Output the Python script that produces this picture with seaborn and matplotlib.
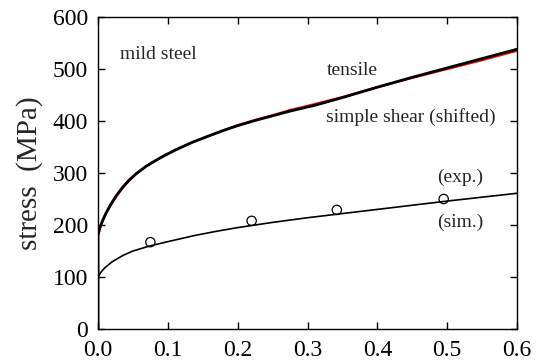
import matplotlib
matplotlib.use("Agg")
import matplotlib.pyplot as plt
import seaborn as sns
import pandas as pd

# ---- data ----
shear_strain = [0.0, 0.0, 0.003, 0.007, 0.0115, 0.018, 0.026, 0.035, 0.045, 0.055,
                0.069, 0.08, 0.093, 0.112, 0.135, 0.16, 0.18, 0.2, 0.225, 0.25,
                0.275, 0.3, 0.31, 0.35, 0.4, 0.45, 0.5, 0.55, 0.6]
shear_stress = [0, 181, 196, 210, 223, 239, 256, 272, 287, 299,
                313, 322, 332, 345, 359, 372, 382, 391, 401, 410,
                419, 427, 430, 445, 465, 484, 502, 520, 538]

tensile_strain = [0.0, 0.0, 0.003, 0.007, 0.0115, 0.018, 0.026, 0.035, 0.045, 0.055,
                  0.069, 0.08, 0.093, 0.112, 0.135, 0.16, 0.18, 0.2, 0.225, 0.25,
                  0.275, 0.3, 0.35, 0.4, 0.45, 0.5, 0.55, 0.6]
tensile_stress = [0, 179, 195, 209, 222, 238, 255, 271, 286, 299,
                  313, 322, 332, 345, 359, 372, 382, 392, 402, 411,
                  421, 429, 446, 465, 483, 500, 517, 535]

sim_strain = [0.0, 0.0, 0.004, 0.01, 0.02, 0.035, 0.05, 0.075, 0.1, 0.139,
              0.17, 0.2, 0.25, 0.3, 0.35, 0.4, 0.45, 0.5, 0.55, 0.6]
sim_stress = [0, 100, 109, 118, 129, 141, 150, 160, 168, 180,
              188, 195, 205, 214, 222, 230, 238, 246, 253.5, 261]

exp_strain = [0.075, 0.22, 0.342, 0.495]
exp_stress = [167, 208, 229, 250]

x_ticks = [0.0, 0.1, 0.2, 0.3, 0.4, 0.5, 0.6]
y_ticks = [0, 100, 200, 300, 400, 500, 600]

sns.set_theme(style="ticks")
plt.rcParams["font.family"] = ["Liberation Serif", "DejaVu Serif"]

fig = plt.figure(figsize=(5.39, 3.63), dpi=100)
ax = fig.add_axes([98/539, 1-329/363, (517-98)/539, (329-17)/363])

df_t = pd.DataFrame({"strain": tensile_strain, "stress": tensile_stress})
df_s = pd.DataFrame({"strain": shear_strain, "stress": shear_stress})
df_sim = pd.DataFrame({"strain": sim_strain, "stress": sim_stress})
df_exp = pd.DataFrame({"strain": exp_strain, "stress": exp_stress})

sns.lineplot(data=df_t, x="strain", y="stress", sort=False, estimator=None,
             color="red", linewidth=1.6, ax=ax)
sns.lineplot(data=df_s, x="strain", y="stress", sort=False, estimator=None,
             color="black", linewidth=2.0, ax=ax)
sns.lineplot(data=df_sim, x="strain", y="stress", sort=False, estimator=None,
             color="black", linewidth=1.2, ax=ax)
sns.scatterplot(data=df_exp, x="strain", y="stress", marker="o", s=45,
                facecolor="none", edgecolor="black", linewidth=0.9, ax=ax, zorder=5)

ax.set_xlim(0, 0.6)
ax.set_ylim(0, 600)
ax.set_xticks(x_ticks)
ax.set_xticklabels([f"{v:.1f}" for v in x_ticks])
ax.set_yticks(y_ticks)
ax.set_yticklabels([str(v) for v in y_ticks])
ax.set_xlabel("")
ax.set_ylabel("stress  (MPa)", fontsize=21, labelpad=7)

ax.tick_params(direction="in", top=True, right=True, length=5, width=1,
               labelsize=17, colors="black")
ax.tick_params(axis="y", pad=7)
ax.tick_params(axis="x", pad=8)
for sp in ax.spines.values():
    sp.set_visible(True)
    sp.set_linewidth(1.0)
    sp.set_color("black")

ax.text(0.031, 527, "mild steel", fontsize=14, va="center", ha="left")
ax.text(0.327, 498, "tensile", fontsize=14, va="center", ha="left")
ax.text(0.327, 408, "simple shear (shifted)", fontsize=14, va="center", ha="left")
ax.text(0.486, 292, "(exp.)", fontsize=14, va="center", ha="left")
ax.text(0.486, 206, "(sim.)", fontsize=14, va="center", ha="left")

fig.savefig("out.png", dpi=100)
